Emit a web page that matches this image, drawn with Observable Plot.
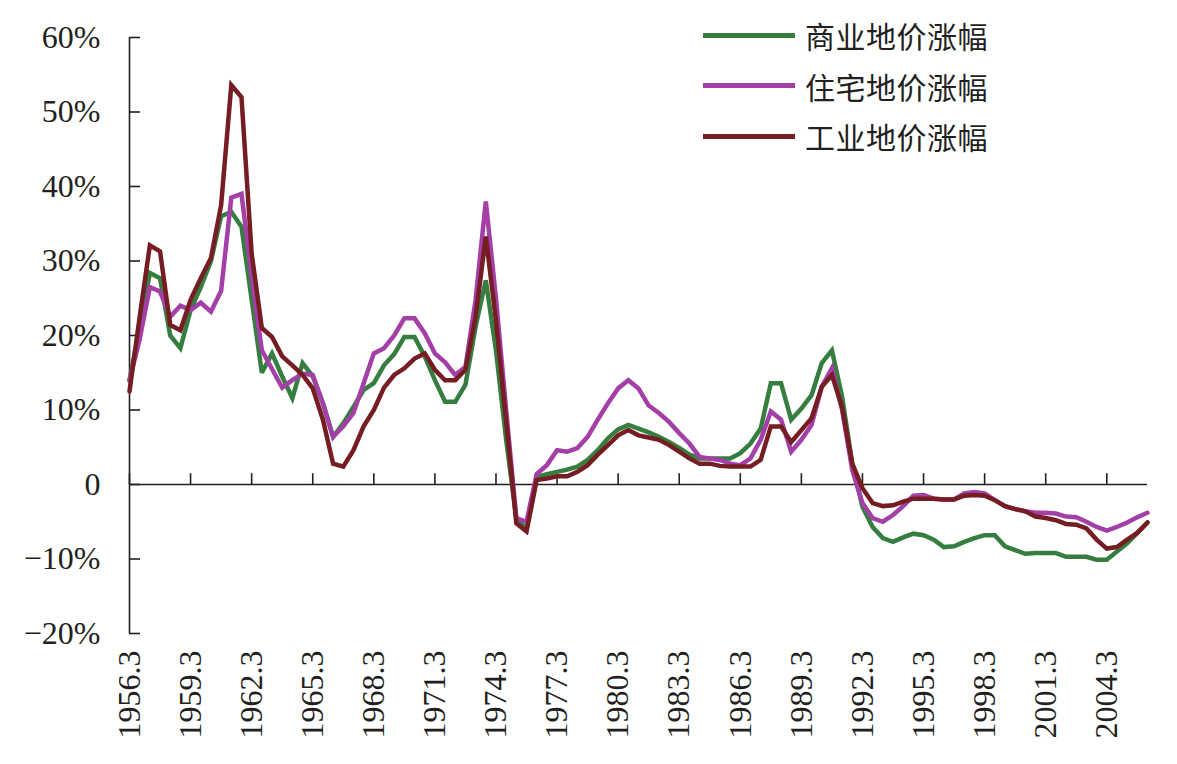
<!DOCTYPE html>
<html>
<head>
<meta charset="utf-8">
<script src="https://cdn.jsdelivr.net/npm/d3@7"></script>
<script src="https://cdn.jsdelivr.net/npm/@observablehq/plot@0.6"></script>
<style>
  html, body { margin: 0; padding: 0; background: #fff; }
  #wrap { position: relative; width: 1177px; height: 764px; }
  #chart svg, #chart svg text { font-family: "Liberation Serif", "Times New Roman", serif !important; }
  #legend { position: absolute; left: 703px; top: 10px; font-size: 30px; color: #231f20; }
  #legend .item { display: flex; align-items: center; height: 50.5px; }
  #legend .sw { width: 92px; height: 5px; margin-right: 10px; }
  #legend .lb { font-family: "Noto Sans CJK SC", sans-serif; font-weight: 400; letter-spacing: 0.5px; }
</style>
</head>
<body>
<div id="wrap"><div id="chart"></div><div id="legend"></div></div>
<script>
// Periods (half-yearly: March / September)
const periods = [
 "1956.3","1956.9","1957.3","1957.9","1958.3","1958.9","1959.3","1959.9","1960.3","1960.9",
 "1961.3","1961.9","1962.3","1962.9","1963.3","1963.9","1964.3","1964.9","1965.3","1965.9",
 "1966.3","1966.9","1967.3","1967.9","1968.3","1968.9","1969.3","1969.9","1970.3","1970.9",
 "1971.3","1971.9","1972.3","1972.9","1973.3","1973.9","1974.3","1974.9","1975.3","1975.9",
 "1976.3","1976.9","1977.3","1977.9","1978.3","1978.9","1979.3","1979.9","1980.3","1980.9",
 "1981.3","1981.9","1982.3","1982.9","1983.3","1983.9","1984.3","1984.9","1985.3","1985.9",
 "1986.3","1986.9","1987.3","1987.9","1988.3","1988.9","1989.3","1989.9","1990.3","1990.9",
 "1991.3","1991.9","1992.3","1992.9","1993.3","1993.9","1994.3","1994.9","1995.3","1995.9",
 "1996.3","1996.9","1997.3","1997.9","1998.3","1998.9","1999.3","1999.9","2000.3","2000.9",
 "2001.3","2001.9","2002.3","2002.9","2003.3","2003.9","2004.3","2004.9","2005.3","2005.9",
 "2006.3"
];

// 商业地价涨幅 (%)
const commercial = [
 14, 21, 28.4, 27.7, 20, 18.3, 23.4, 26.5, 30, 36,
 36.6, 34.6, 24.8, 15, 17.6, 14.5, 11.6, 16.3, 14.5, 10.9,
 6.4, 8.2, 10.4, 12.7, 13.6, 16, 17.5, 19.8, 19.8, 17.2,
 14, 11.1, 11.1, 13.4, 21.2, 27.4, 18, 6, -4.5, -6,
 1, 1.4, 1.7, 2, 2.4, 3.3, 4.6, 6.2, 7.4, 8,
 7.5, 7, 6.4, 5.7, 4.9, 4, 3.5, 3.5, 3.5, 3.5,
 4.2, 5.5, 7.5, 13.6, 13.6, 8.7, 10.2, 12, 16.3, 18,
 11.8, 2.8, -3, -5.7, -7.2, -7.7, -7.1, -6.6, -6.8, -7.4,
 -8.4, -8.3, -7.7, -7.2, -6.8, -6.8, -8.3, -8.8, -9.3, -9.2,
 -9.2, -9.2, -9.7, -9.7, -9.7, -10.1, -10.1, -9, -7.9, -6.5,
 -5.1
];

// 住宅地价涨幅 (%)
const residential = [
 14, 19.5, 26.5, 25.9, 22.5, 24, 23.4, 24.4, 23.2, 26,
 38.5, 39, 28, 18, 15.5, 13, 14, 14.9, 14.7, 10.9,
 6.4, 7.8, 9.6, 13.6, 17.6, 18.3, 20, 22.3, 22.3, 20.3,
 17.6, 16.4, 14.7, 15.8, 24.8, 38, 25, 10, -4.5, -5,
 1.4, 2.6, 4.6, 4.4, 4.9, 6.4, 8.7, 10.9, 12.9, 14,
 12.9, 10.6, 9.6, 8.4, 6.9, 5.5, 3.7, 3.5, 3.3, 2.8,
 2.6, 3.5, 6, 9.8, 8.7, 4.4, 6, 8, 13.1, 15.6,
 10, 1.9, -2.5, -4.5, -5, -4.1, -2.9, -1.5, -1.4, -1.9,
 -2, -2, -1.2, -1, -1.2, -2.1, -2.9, -3.3, -3.6, -3.8,
 -3.8, -3.9, -4.3, -4.4, -5, -5.7, -6.2, -5.7, -5.1, -4.4,
 -3.8
];

// 工业地价涨幅 (%)
const industrial = [
 12.5, 22.5, 32.1, 31.3, 21.4, 20.7, 24.8, 27.7, 30.4, 37.5,
 53.6, 52, 31, 21, 19.8, 17.2, 16, 14.7, 12.9, 8.7,
 2.8, 2.4, 4.6, 7.8, 10, 13, 14.7, 15.6, 16.9, 17.6,
 15.4, 14, 14, 15.4, 22.5, 33.3, 22, 8.5, -5.2, -6.3,
 0.6, 0.8, 1.1, 1.1, 1.7, 2.6, 4, 5.3, 6.6, 7.3,
 6.6, 6.3, 6, 5.3, 4.4, 3.5, 2.8, 2.8, 2.5, 2.4,
 2.4, 2.4, 3.3, 7.8, 7.8, 5.7, 7.3, 8.9, 13.1, 14.7,
 10.4, 2.8, -0.5, -2.5, -2.9, -2.8, -2.3, -1.9, -1.9, -1.9,
 -2, -2, -1.5, -1.4, -1.5, -2.1, -2.9, -3.3, -3.6, -4.3,
 -4.5, -4.8, -5.3, -5.4, -5.9, -7.4, -8.6, -8.4, -7.4, -6.5,
 -5.1
];

const seriesNames = ["商业地价涨幅", "住宅地价涨幅", "工业地价涨幅"];
const seriesColors = ["#357e40", "#a33fa6", "#751d22"];
const xTickLabels = ["1956.3","1959.3","1962.3","1965.3","1968.3","1971.3","1974.3","1977.3","1980.3","1983.3","1986.3","1989.3","1992.3","1995.3","1998.3","2001.3","2004.3"];
const yTicks = [-20, -10, 0, 10, 20, 30, 40, 50, 60];

const seriesValues = [commercial, residential, industrial];
const rows = [];
seriesValues.forEach((vals, s) => {
  vals.forEach((v, i) => rows.push({series: seriesNames[s], idx: i, period: periods[i], value: v}));
});
const xTicks = xTickLabels.map(l => periods.indexOf(l));
const fmtY = d => d === 0 ? "0" : (d < 0 ? "\u2212" + Math.abs(d) : d) + "%";

const chart = Plot.plot({
  width: 1177,
  height: 764,
  marginLeft: 129,
  marginRight: 30,
  marginTop: 37,
  marginBottom: 131,
  style: {fontFamily: "'Liberation Serif', 'Times New Roman', serif", fontSize: "32px", color: "#231f20", background: "#fff"},
  x: {domain: [0, periods.length - 1], ticks: xTicks},
  y: {domain: [-20, 60], ticks: yTicks},
  color: {domain: seriesNames, range: seriesColors},
  marks: [
    Plot.axisX(xTicks, {anchor: "bottom", tickSize: 0, tickPadding: 17, tickRotate: -90, tickFormat: i => periods[i], label: null, fontSize: 32}),
    Plot.axisY(yTicks, {anchor: "left", tickSize: -11, tickPadding: 40, tickFormat: fmtY, label: null, strokeWidth: 1.6, stroke: "#231f20", fontSize: 32}),
    Plot.ruleX([0], {stroke: "#231f20", strokeWidth: 1.6}),
    Plot.ruleY([0], {stroke: "#231f20", strokeWidth: 1.6}),
    Plot.ruleX(xTicks, {x: d => d, y1: 0, y2: 1.45, stroke: "#231f20", strokeWidth: 1.6}),
    Plot.line(rows, {x: "idx", y: "value", z: "series", stroke: "series", strokeWidth: 4.5, strokeLinejoin: "miter", strokeMiterlimit: 3})
  ]
});
document.getElementById("chart").appendChild(chart);

const legend = document.getElementById("legend");
seriesNames.forEach((n, k) => {
  const it = document.createElement("div");
  it.className = "item";
  it.innerHTML = `<span class="sw" style="background:${seriesColors[k]}"></span><span class="lb">${n}</span>`;
  legend.appendChild(it);
});
</script>
</body>
</html>
